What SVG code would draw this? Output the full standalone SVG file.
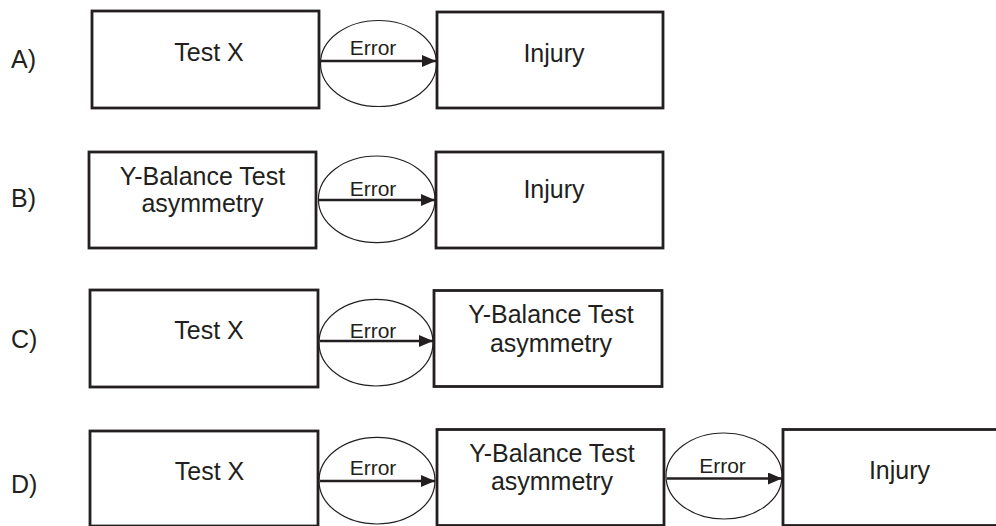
<svg xmlns="http://www.w3.org/2000/svg" width="996" height="526" viewBox="0 0 996 526">
<style>
.box{fill:#fff;stroke:#231f20;stroke-width:2.8}
.ell{fill:none;stroke:#231f20;stroke-width:1.2}
.t{font-family:"Liberation Sans",Arial,sans-serif;font-size:25px;fill:#231f20;text-anchor:middle}
.lab{font-family:"Liberation Sans",Arial,sans-serif;font-size:25px;fill:#231f20}
.e{font-family:"Liberation Sans",Arial,sans-serif;font-size:21px;fill:#231f20;text-anchor:middle}
.arr{stroke:#231f20;stroke-width:2.4;fill:none}
</style>
<defs>
<marker id="ah" markerUnits="userSpaceOnUse" markerWidth="14" markerHeight="12" viewBox="0 0 14 12" refX="14" refY="6" orient="auto">
<path d="M0,0 L14,6 L0,12 Z" fill="#231f20"/>
</marker>
</defs>
<g id="labels">
<text class="lab" x="11" y="68">A)</text>
<text class="lab" x="11" y="207">B)</text>
<text class="lab" x="11" y="348">C)</text>
<text class="lab" x="11" y="493">D)</text>
</g>
<g id="rowA">
<g id="A-testx"><rect class="box" x="92" y="11" width="227" height="97"/><text class="t" x="209" y="61">Test X</text></g>
<g id="A-error"><ellipse class="ell" cx="378.5" cy="63.5" rx="58" ry="43"/><text class="e" x="373" y="55">Error</text></g>
<g id="A-injury"><rect class="box" x="437" y="12" width="226" height="96"/><text class="t" x="554" y="62">Injury</text></g>
</g>
<g id="rowB">
<g id="B-ybal"><rect class="box" x="89" y="152" width="227" height="96"/><text class="t" x="202.5" y="185">Y-Balance Test</text><text class="t" x="202.5" y="212">asymmetry</text></g>
<g id="B-error"><ellipse class="ell" cx="376.7" cy="199.3" rx="58.3" ry="43.3"/><text class="e" x="373" y="196">Error</text></g>
<g id="B-injury"><rect class="box" x="436" y="152" width="227" height="96"/><text class="t" x="554" y="198">Injury</text></g>
</g>
<g id="rowC">
<g id="C-testx"><rect class="box" x="90" y="290" width="228" height="97"/><text class="t" x="209" y="339">Test X</text></g>
<g id="C-error"><ellipse class="ell" cx="376" cy="342.7" rx="57" ry="43.3"/><text class="e" x="373" y="338">Error</text></g>
<g id="C-ybal"><rect class="box" x="434" y="290.5" width="228" height="96"/><text class="t" x="551" y="323">Y-Balance Test</text><text class="t" x="551" y="352">asymmetry</text></g>
</g>
<g id="rowD">
<g id="D-testx"><rect class="box" x="90" y="431" width="228" height="95"/><text class="t" x="209.5" y="480">Test X</text></g>
<g id="D-error1"><ellipse class="ell" cx="377" cy="480.7" rx="58" ry="43.3"/><text class="e" x="373" y="475">Error</text></g>
<g id="D-ybal"><rect class="box" x="437" y="429.5" width="227" height="96"/><text class="t" x="552" y="462">Y-Balance Test</text><text class="t" x="552" y="490">asymmetry</text></g>
<g id="D-error2"><ellipse class="ell" cx="724" cy="476" rx="58" ry="43"/><text class="e" x="722.5" y="473">Error</text></g>
<g id="D-injury"><rect class="box" x="783" y="429.5" width="227" height="96"/><text class="t" x="899.5" y="479">Injury</text></g>
</g>
<g id="connectors">
<line class="arr" x1="321" y1="61" x2="436" y2="61" marker-end="url(#ah)"/>
<line class="arr" x1="319" y1="200" x2="435" y2="200" marker-end="url(#ah)"/>
<line class="arr" x1="320" y1="341" x2="433" y2="341" marker-end="url(#ah)"/>
<line class="arr" x1="320" y1="481" x2="435" y2="481" marker-end="url(#ah)"/>
<line class="arr" x1="667" y1="478.5" x2="782" y2="478.5" marker-end="url(#ah)"/>
</g>
</svg>
